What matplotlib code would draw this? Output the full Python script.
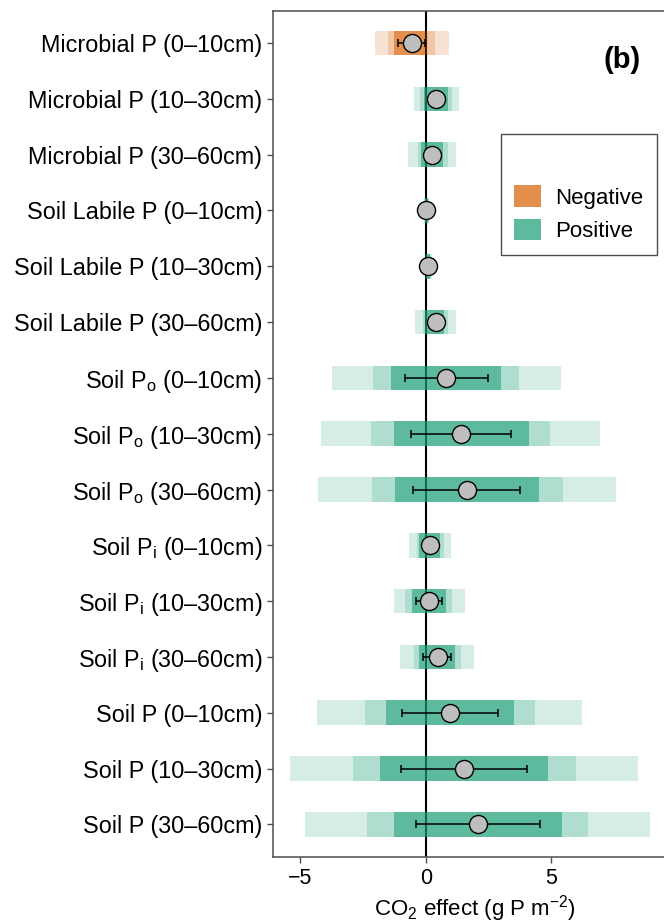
import matplotlib
matplotlib.use('Agg')
import matplotlib.pyplot as plt
from matplotlib.patches import Patch

plt.rcParams['font.family'] = ['Liberation Sans', 'DejaVu Sans']
plt.rcParams['mathtext.fontset'] = 'custom'
plt.rcParams['mathtext.rm'] = 'Liberation Sans'
plt.rcParams['mathtext.it'] = 'Liberation Sans:italic'
plt.rcParams['mathtext.bf'] = 'Liberation Sans:bold'

labels = [
    'Microbial P (0–10cm)', 'Microbial P (10–30cm)', 'Microbial P (30–60cm)',
    'Soil Labile P (0–10cm)', 'Soil Labile P (10–30cm)', 'Soil Labile P (30–60cm)',
    r'Soil P$_\mathrm{o}$ (0–10cm)', r'Soil P$_\mathrm{o}$ (10–30cm)', r'Soil P$_\mathrm{o}$ (30–60cm)',
    r'Soil P$_\mathrm{i}$ (0–10cm)', r'Soil P$_\mathrm{i}$ (10–30cm)', r'Soil P$_\mathrm{i}$ (30–60cm)',
    'Soil P (0–10cm)', 'Soil P (10–30cm)', 'Soil P (30–60cm)',
]
estimate = [-0.56, 0.41, 0.24, 0.0, 0.10, 0.40, 0.81, 1.40, 1.63, 0.15, 0.13, 0.48, 0.94, 1.50, 2.07]
err_lo = [-1.12, 0.22, 0.08, -0.05, 0.02, 0.22, -0.83, -0.61, -0.51, 0.0, -0.40, -0.10, -0.95, -0.98, -0.41]
err_hi = [-0.03, 0.60, 0.40, 0.05, 0.18, 0.58, 2.46, 3.40, 3.76, 0.30, 0.64, 1.01, 2.87, 4.03, 4.56]
# inner / middle / outer intervals
lo_in = [-1.26, -0.06, -0.20, -0.03, 0.02, -0.03, -1.38, -1.29, -1.22, -0.27, -0.56, -0.27, -1.60, -1.82, -1.26]
hi_in = [-0.03, 0.86, 0.70, 0.08, 0.18, 0.73, 3.00, 4.09, 4.51, 0.57, 0.81, 1.17, 3.52, 4.88, 5.40]
lo_mid = [-1.49, -0.23, -0.33, -0.05, 0.0, -0.10, -2.09, -2.18, -2.15, -0.36, -0.83, -0.49, -2.42, -2.91, -2.34]
hi_mid = [0.37, 1.04, 0.86, 0.11, 0.21, 0.86, 3.72, 4.96, 5.44, 0.73, 1.04, 1.40, 4.33, 5.96, 6.46]
lo_out = [-2.02, -0.49, -0.73, -0.08, -0.03, -0.43, -3.72, -4.16, -4.30, -0.69, -1.29, -1.05, -4.32, -5.41, -4.80]
hi_out = [0.90, 1.30, 1.21, 0.14, 0.24, 1.21, 5.36, 6.95, 7.56, 1.00, 1.54, 1.93, 6.22, 8.46, 8.93]

neg_color = '#D95F02'
pos_color = '#1B9E77'

fig = plt.figure(figsize=(6.64, 9.23), dpi=100)
ax = fig.add_axes([0.4107, 0.0718, 0.609, 0.9166])

ypos = list(range(1, len(labels) + 1))
colors = [neg_color if e < 0 else pos_color for e in estimate]
h = 0.44

ax.axvline(0, color='black', lw=1.5, zorder=1)
for lo, hi, a in [(lo_out, hi_out, 0.18), (lo_mid, hi_mid, 0.2), (lo_in, hi_in, 0.55)]:
    widths = [b - a_ for a_, b in zip(lo, hi)]
    ax.barh(ypos, widths, left=lo, height=h, color=colors, alpha=a, lw=0, zorder=2)

xerr = [[e - l for e, l in zip(estimate, err_lo)], [u - e for e, u in zip(estimate, err_hi)]]
ax.errorbar(estimate, ypos, xerr=xerr, fmt='none', ecolor='black', elinewidth=1.1,
            capsize=3, capthick=1.1, zorder=3)
ax.plot(estimate, ypos, 'o', ms=13, mfc='#BEBEBE', mec='black', mew=1.0, zorder=4)

ax.set_xlim(-6.1, 10.0)
ax.set_ylim(15.58, 0.42)
ax.set_yticks(ypos)
ax.set_yticklabels(labels, fontsize=16.8)
ax.set_xticks([-5, 0, 5])
ax.set_xticklabels(['−5', '0', '5'], fontsize=15.5)
ax.tick_params(direction='out', length=4, color='#4D4D4D', width=1)
ax.tick_params(axis='x', pad=4)
ax.set_xlabel(r'CO$_2$ effect (g P m$^{-2}$)', fontsize=16, labelpad=3)
for s in ax.spines.values():
    s.set_color('#4D4D4D')
    s.set_linewidth(1.1)

eff_alpha = 1 - (1 - 0.18) * (1 - 0.2) * (1 - 0.55)
handles = [Patch(facecolor=neg_color, alpha=eff_alpha, lw=0, label='Negative'),
           Patch(facecolor=pos_color, alpha=eff_alpha, lw=0, label='Positive')]
leg = fig.legend(handles=handles, loc='upper left', bbox_to_anchor=(0.7545, 0.8548),
                 bbox_transform=fig.transFigure, borderaxespad=0, fontsize=16,
                 title=' ', title_fontsize=21, fancybox=False, edgecolor='#4D4D4D',
                 framealpha=1, handlelength=1.2, handleheight=1.1, handletextpad=0.65,
                 labelspacing=0.45, borderpad=0.6)
leg.get_frame().set_linewidth(1.0)

fig.text(0.9367, 0.935, '(b)', fontsize=21, fontweight='bold', ha='center', va='center')

fig.savefig('out.png', dpi=100)
